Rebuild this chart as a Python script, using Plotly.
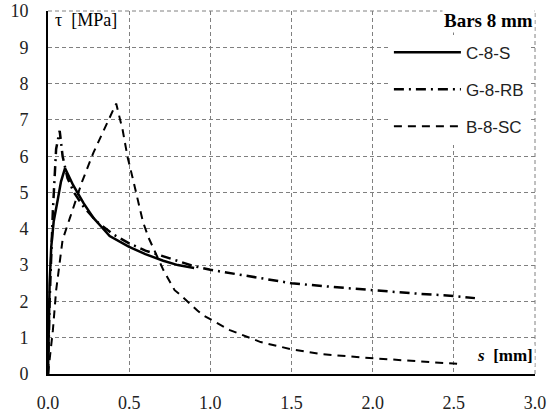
import plotly.graph_objects as go

# C-8-S (solid)
s_c = [0, 0.005, 0.01, 0.02, 0.035, 0.06, 0.08, 0.105, 0.155, 0.22, 0.28, 0.33, 0.38, 0.5, 0.6, 0.71, 0.8, 0.9]
t_c = [0, 1.0, 2.5, 3.5, 4.2, 4.8, 5.3, 5.67, 5.2, 4.7, 4.3, 4.05, 3.8, 3.5, 3.3, 3.12, 3.0, 2.92]

# G-8-RB (dash-dot)
s_g = [0, 0.01, 0.03, 0.05, 0.072, 0.09, 0.12, 0.16, 0.22, 0.3, 0.4, 0.5, 0.6, 0.7, 0.8, 0.9, 1.0, 1.25, 1.5, 1.75, 2.0, 2.25, 2.5, 2.63]
t_g = [0, 2.0, 4.5, 6.2, 6.7, 6.0, 5.4, 5.0, 4.6, 4.2, 3.85, 3.6, 3.4, 3.25, 3.1, 2.97, 2.87, 2.68, 2.5, 2.4, 2.3, 2.22, 2.15, 2.09]

# B-8-SC (dashed)
s_b = [0, 0.03, 0.05, 0.074, 0.09, 0.135, 0.21, 0.28, 0.33, 0.42, 0.46, 0.49, 0.52, 0.555, 0.585, 0.62, 0.66, 0.71, 0.78, 0.81, 0.92, 0.955, 1.12, 1.31, 1.49, 1.68, 1.98, 2.25, 2.52]
t_b = [0, 1.2, 2.3, 3.1, 3.7, 4.3, 5.3, 6.1, 6.6, 7.45, 6.72, 5.98, 5.43, 4.71, 4.19, 3.75, 3.36, 2.87, 2.31, 2.2, 1.75, 1.62, 1.21, 0.88, 0.69, 0.55, 0.44, 0.36, 0.28]

x_ticks = [0, 0.5, 1.0, 1.5, 2.0, 2.5, 3.0]
x_labels = ["0.0", "0.5", "1.0", "1.5", "2.0", "2.5", "3.0"]
y_ticks = list(range(0, 11))

fig = go.Figure()
fig.add_trace(go.Scatter(x=s_c, y=t_c, mode="lines", name="C-8-S", legendgroup="a",
                         line=dict(color="black", width=2.5, dash="solid")))
fig.add_trace(go.Scatter(x=s_g, y=t_g, mode="lines", name="G-8-RB", legendgroup="b",
                         line=dict(color="black", width=2.5, dash="10px,5px,2px,5px")))
fig.add_trace(go.Scatter(x=s_b, y=t_b, mode="lines", name="B-8-SC", legendgroup="c",
                         line=dict(color="black", width=2.0, dash="8px,6px")))

grid = dict(showgrid=True, gridcolor="#808080", gridwidth=1, griddash="4px,3px")
fig.update_xaxes(range=[0, 3], tickvals=x_ticks, ticktext=x_labels, showline=True,
                 linecolor="black", linewidth=2, zeroline=False, ticks="", automargin=False,
                 tickfont=dict(family="Liberation Serif", size=18, color="#222"),
                 ticklabelstandoff=11, **grid)
fig.update_yaxes(range=[0, 10], tickvals=y_ticks, showline=True,
                 linecolor="black", linewidth=2, zeroline=False, ticks="", automargin=False,
                 tickfont=dict(family="Liberation Serif", size=18, color="#222"),
                 ticklabelstandoff=14, **grid)

# dashed frame on top and right (like the grid)
fig.add_shape(type="line", xref="paper", yref="paper", x0=0, x1=1, y0=1, y1=1,
              line=dict(color="#808080", width=1, dash="4px,3px"), layer="below")
fig.add_shape(type="line", xref="paper", yref="paper", x0=1, x1=1, y0=0, y1=1,
              line=dict(color="#808080", width=1, dash="4px,3px"), layer="below")

fig.add_annotation(x=0.03, y=9.75, xref="x", yref="y", text="τ  [MPa]", showarrow=False,
                   xanchor="left", yanchor="middle",
                   font=dict(family="Liberation Serif", size=18, color="black"))
fig.add_annotation(x=3.0, y=9.75, xref="x", yref="y", text="<b>Bars 8 mm</b>", showarrow=False,
                   xanchor="right", yanchor="middle", bgcolor="white",
                   font=dict(family="Liberation Serif", size=19, color="black"))
fig.add_annotation(x=3.0, y=0.5, xref="x", yref="y", text="<b><i>s</i>  [mm]</b>", showarrow=False,
                   xanchor="right", yanchor="middle", bgcolor="white",
                   font=dict(family="Liberation Serif", size=17, color="black"))

fig.update_layout(
    width=549, height=415,
    margin=dict(l=48, r=14, t=11, b=41),
    plot_bgcolor="white", paper_bgcolor="white",
    legend=dict(x=0.70, y=0.935, xanchor="left", yanchor="top", bgcolor="white",
                font=dict(family="Liberation Sans", size=17, color="#222"),
                itemwidth=67, tracegroupgap=12),
    showlegend=True,
)
fig.write_html("out.html", config={"displayModeBar": False},
               post_script="document.body.style.margin='0';document.body.style.overflow='hidden';")
